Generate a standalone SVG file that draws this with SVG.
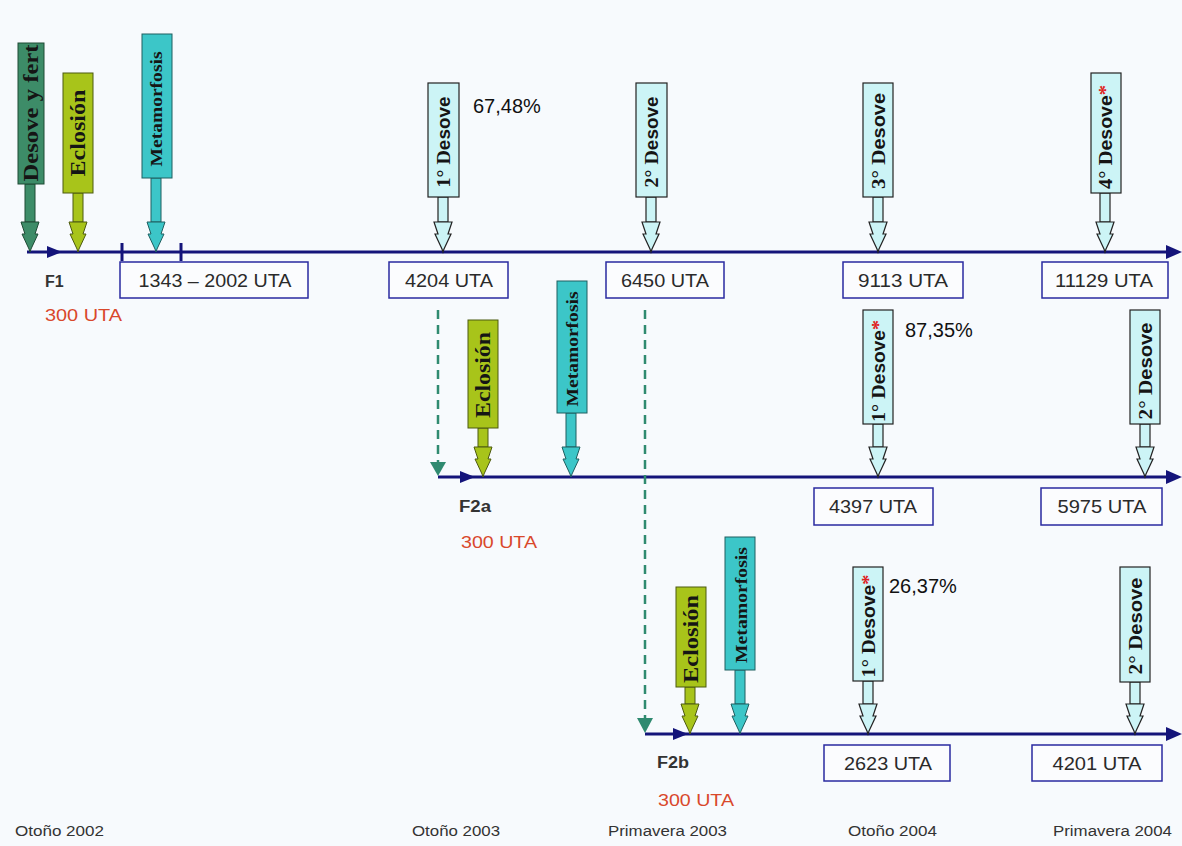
<svg xmlns="http://www.w3.org/2000/svg" width="1182" height="846" viewBox="0 0 1182 846">
<style>
.bg{fill:#f7fafd}
.tl{stroke:#14147a;stroke-width:3;fill:none}
.tlh{fill:#14147a}
.dash{stroke:#2f8a70;stroke-width:2.5;stroke-dasharray:9,6;fill:none}
.dh{fill:#2f8a70}
.box{fill:#fbfcfe;stroke:#2a2aa0;stroke-width:1.5}
.bt{font-family:"Liberation Sans",Arial,sans-serif;font-size:18px;fill:#2a2a2a;text-anchor:middle}
.pct{font-family:"Liberation Sans",Arial,sans-serif;font-size:20px;fill:#111}
.fl{font-family:"Liberation Sans",Arial,sans-serif;font-size:16px;font-weight:bold;fill:#333}
.red{font-family:"Liberation Sans",Arial,sans-serif;font-size:17px;fill:#d9482b}
.season{font-family:"Liberation Sans",Arial,sans-serif;font-size:14px;fill:#333}
.dg{fill:#3d8c68;stroke:#1f4a35;stroke-width:1}
.yg{fill:#a8c41a;stroke:#4d5a10;stroke-width:1}
.tq{fill:#3cc6c8;stroke:#1f5f60;stroke-width:1}
.lc{fill:#ccf4f6;stroke:#222;stroke-width:1.2}
.ct{font-family:"Liberation Serif","Times New Roman",serif;font-weight:bold;fill:#151515;text-anchor:middle}
.ds{font-family:"Liberation Sans",Arial,sans-serif;font-weight:bold}
.ast{fill:#e02020}
</style>
<defs>
<path id="hd" d="M-5,-30 L-9,-30 L-5,-18 L-8,-18 L-1,-3 L0,0 L1,-3 L8,-18 L5,-18 L9,-30 L5,-30 Z"/>
</defs>
<rect class="bg" x="0" y="0" width="1182" height="846"/>

<g id="connectors">
<line class="tl" x1="27" y1="252" x2="1168" y2="252"/>
<polygon class="tlh" points="1166,245 1182,252 1166,259"/>
<polygon class="tlh" points="47,246 62,252 47,258"/>
<line class="tl" x1="122" y1="243" x2="122" y2="261" stroke-width="1.5"/>
<line class="tl" x1="181" y1="243" x2="181" y2="261" stroke-width="1.5"/>
<line class="tl" x1="438" y1="477" x2="1168" y2="477"/>
<polygon class="tlh" points="1166,470 1182,477 1166,484"/>
<polygon class="tlh" points="460,471 475,477 460,483"/>
<line class="tl" x1="645" y1="734" x2="1168" y2="734"/>
<polygon class="tlh" points="1166,727 1182,734 1166,741"/>
<polygon class="tlh" points="673,728 688,734 673,740"/>
<line class="dash" x1="438" y1="310" x2="438" y2="462"/>
<polygon class="dh" points="430,462 446,462 438,476"/>
<line class="dash" x1="645" y1="310" x2="645" y2="718"/>
<polygon class="dh" points="637,718 653,718 645,733"/>
</g>

<!-- F1 callouts -->
<g id="f1-desove-fert">
<rect class="dg" x="25" y="184" width="10" height="38"/><use href="#hd" class="dg" x="30" y="252"/>
<rect class="dg" x="18" y="43" width="26" height="141"/>
<text class="ct" font-size="21" textLength="137" lengthAdjust="spacingAndGlyphs" transform="translate(38,113) rotate(-90)">Desove y fert</text>
</g>
<g id="f1-eclosion">
<rect class="yg" x="73" y="193" width="10" height="29"/><use href="#hd" class="yg" x="78" y="252"/>
<rect class="yg" x="63" y="73" width="30" height="120"/>
<text class="ct" font-size="21" textLength="87" lengthAdjust="spacingAndGlyphs" transform="translate(85,133) rotate(-90)">Eclosión</text>
</g>
<g id="f1-metamorfosis">
<rect class="tq" x="151" y="178" width="10" height="44"/><use href="#hd" class="tq" x="156" y="252"/>
<rect class="tq" x="142" y="34" width="30" height="144"/>
<text class="ct" font-size="17" textLength="115" lengthAdjust="spacingAndGlyphs" transform="translate(162,109) rotate(-90)">Metamorfosis</text>
</g>
<g id="f1-desove1">
<rect class="lc" x="438" y="197" width="10" height="25"/><use href="#hd" class="lc" x="443" y="252"/>
<rect class="lc" x="428" y="83" width="31" height="114"/>
<text class="ct" font-size="19" textLength="91" lengthAdjust="spacingAndGlyphs" transform="translate(450,142) rotate(-90)">1° D<tspan class="ds" font-size="18">esove</tspan></text>
</g>
<text class="pct" x="473" y="113">67,48%</text>
<g id="f1-desove2">
<rect class="lc" x="646" y="197" width="10" height="25"/><use href="#hd" class="lc" x="651" y="252"/>
<rect class="lc" x="636" y="83" width="31" height="114"/>
<text class="ct" font-size="19" textLength="91" lengthAdjust="spacingAndGlyphs" transform="translate(658,142) rotate(-90)">2° D<tspan class="ds" font-size="18">esove</tspan></text>
</g>
<g id="f1-desove3">
<rect class="lc" x="873" y="197" width="10" height="25"/><use href="#hd" class="lc" x="878" y="252"/>
<rect class="lc" x="863" y="83" width="30" height="114"/>
<text class="ct" font-size="19" textLength="96" lengthAdjust="spacingAndGlyphs" transform="translate(885,141) rotate(-90)">3° D<tspan class="ds" font-size="18">esove</tspan></text>
</g>
<g id="f1-desove4">
<rect class="lc" x="1100" y="193" width="10" height="29"/><use href="#hd" class="lc" x="1105" y="252"/>
<rect class="lc" x="1091" y="73" width="30" height="120"/>
<text class="ct" font-size="19" textLength="104" lengthAdjust="spacingAndGlyphs" transform="translate(1112,137) rotate(-90)">4° D<tspan class="ds" font-size="18">esove</tspan><tspan class="ast">*</tspan></text>
</g>

<g id="f1-labels">
<rect class="box" x="120" y="262" width="188" height="36"/><text class="bt" x="215" y="287" textLength="153" lengthAdjust="spacingAndGlyphs">1343 – 2002 UTA</text>
<rect class="box" x="389" y="262" width="119" height="36"/><text class="bt" x="449" y="287" textLength="88" lengthAdjust="spacingAndGlyphs">4204 UTA</text>
<rect class="box" x="606" y="262" width="118" height="36"/><text class="bt" x="665" y="287" textLength="88" lengthAdjust="spacingAndGlyphs">6450 UTA</text>
<rect class="box" x="843" y="262" width="120" height="36"/><text class="bt" x="903" y="287" textLength="90" lengthAdjust="spacingAndGlyphs">9113 UTA</text>
<rect class="box" x="1042" y="262" width="126" height="36"/><text class="bt" x="1104" y="287" textLength="98" lengthAdjust="spacingAndGlyphs">11129 UTA</text>
<text class="fl" x="45" y="287">F1</text>
<text class="red" x="45" y="321" textLength="77" lengthAdjust="spacingAndGlyphs">300 UTA</text>
</g>

<!-- F2a callouts -->
<g id="f2a-eclosion">
<rect class="yg" x="478" y="428" width="10" height="19"/><use href="#hd" class="yg" x="483" y="477"/>
<rect class="yg" x="468" y="320" width="30" height="108"/>
<text class="ct" font-size="21" textLength="86" lengthAdjust="spacingAndGlyphs" transform="translate(490,375) rotate(-90)">Eclosión</text>
</g>
<g id="f2a-metamorfosis">
<rect class="tq" x="566" y="413" width="10" height="34"/><use href="#hd" class="tq" x="571" y="477"/>
<rect class="tq" x="557" y="281" width="30" height="132"/>
<text class="ct" font-size="17" textLength="115" lengthAdjust="spacingAndGlyphs" transform="translate(578,349) rotate(-90)">Metamorfosis</text>
</g>
<g id="f2a-desove1">
<rect class="lc" x="873" y="424" width="10" height="23"/><use href="#hd" class="lc" x="878" y="477"/>
<rect class="lc" x="863" y="310" width="30" height="114"/>
<text class="ct" font-size="19" textLength="102" lengthAdjust="spacingAndGlyphs" transform="translate(885,371) rotate(-90)">1° D<tspan class="ds" font-size="18">esove</tspan><tspan class="ast">*</tspan></text>
</g>
<text class="pct" x="905" y="337">87,35%</text>
<g id="f2a-desove2">
<rect class="lc" x="1140" y="424" width="10" height="23"/><use href="#hd" class="lc" x="1145" y="477"/>
<rect class="lc" x="1130" y="310" width="30" height="114"/>
<text class="ct" font-size="19" textLength="97" lengthAdjust="spacingAndGlyphs" transform="translate(1152,371) rotate(-90)">2° D<tspan class="ds" font-size="18">esove</tspan></text>
</g>
<g id="f2a-labels">
<rect class="box" x="814" y="488" width="119" height="37"/><text class="bt" x="873" y="513" textLength="88" lengthAdjust="spacingAndGlyphs">4397 UTA</text>
<rect class="box" x="1041" y="488" width="121" height="37"/><text class="bt" x="1102" y="513" textLength="89" lengthAdjust="spacingAndGlyphs">5975 UTA</text>
<text class="fl" x="459" y="512" textLength="32" lengthAdjust="spacingAndGlyphs">F2a</text>
<text class="red" x="461" y="548" textLength="76" lengthAdjust="spacingAndGlyphs">300 UTA</text>
</g>

<!-- F2b callouts -->
<g id="f2b-eclosion">
<rect class="yg" x="685" y="687" width="10" height="17"/><use href="#hd" class="yg" x="690" y="734"/>
<rect class="yg" x="676" y="587" width="30" height="100"/>
<text class="ct" font-size="21" textLength="88" lengthAdjust="spacingAndGlyphs" transform="translate(698,639) rotate(-90)">Eclosión</text>
</g>
<g id="f2b-metamorfosis">
<rect class="tq" x="735" y="670" width="10" height="34"/><use href="#hd" class="tq" x="740" y="734"/>
<rect class="tq" x="725" y="537" width="30" height="133"/>
<text class="ct" font-size="17" textLength="116" lengthAdjust="spacingAndGlyphs" transform="translate(747,605) rotate(-90)">Metamorfosis</text>
</g>
<g id="f2b-desove1">
<rect class="lc" x="863" y="681" width="10" height="23"/><use href="#hd" class="lc" x="868" y="734"/>
<rect class="lc" x="853" y="567" width="30" height="114"/>
<text class="ct" font-size="19" textLength="103" lengthAdjust="spacingAndGlyphs" transform="translate(875,626) rotate(-90)">1° D<tspan class="ds" font-size="18">esove</tspan><tspan class="ast">*</tspan></text>
</g>
<text class="pct" x="889" y="593">26,37%</text>
<g id="f2b-desove2">
<rect class="lc" x="1130" y="682" width="10" height="22"/><use href="#hd" class="lc" x="1135" y="734"/>
<rect class="lc" x="1120" y="567" width="30" height="115"/>
<text class="ct" font-size="19" textLength="97" lengthAdjust="spacingAndGlyphs" transform="translate(1142,626) rotate(-90)">2° D<tspan class="ds" font-size="18">esove</tspan></text>
</g>
<g id="f2b-labels">
<rect class="box" x="824" y="745" width="126" height="36"/><text class="bt" x="888" y="770" textLength="88" lengthAdjust="spacingAndGlyphs">2623 UTA</text>
<rect class="box" x="1032" y="745" width="130" height="36"/><text class="bt" x="1097" y="770" textLength="89" lengthAdjust="spacingAndGlyphs">4201 UTA</text>
<text class="fl" x="657" y="768" textLength="32" lengthAdjust="spacingAndGlyphs">F2b</text>
<text class="red" x="658" y="806" textLength="76" lengthAdjust="spacingAndGlyphs">300 UTA</text>
</g>

<g id="seasons">
<text class="season" x="15" y="836" textLength="89" lengthAdjust="spacingAndGlyphs">Otoño 2002</text>
<text class="season" x="412" y="836" textLength="88" lengthAdjust="spacingAndGlyphs">Otoño 2003</text>
<text class="season" x="608" y="836" textLength="119" lengthAdjust="spacingAndGlyphs">Primavera 2003</text>
<text class="season" x="848" y="836" textLength="89" lengthAdjust="spacingAndGlyphs">Otoño 2004</text>
<text class="season" x="1053" y="836" textLength="119" lengthAdjust="spacingAndGlyphs">Primavera 2004</text>
</g>
</svg>
